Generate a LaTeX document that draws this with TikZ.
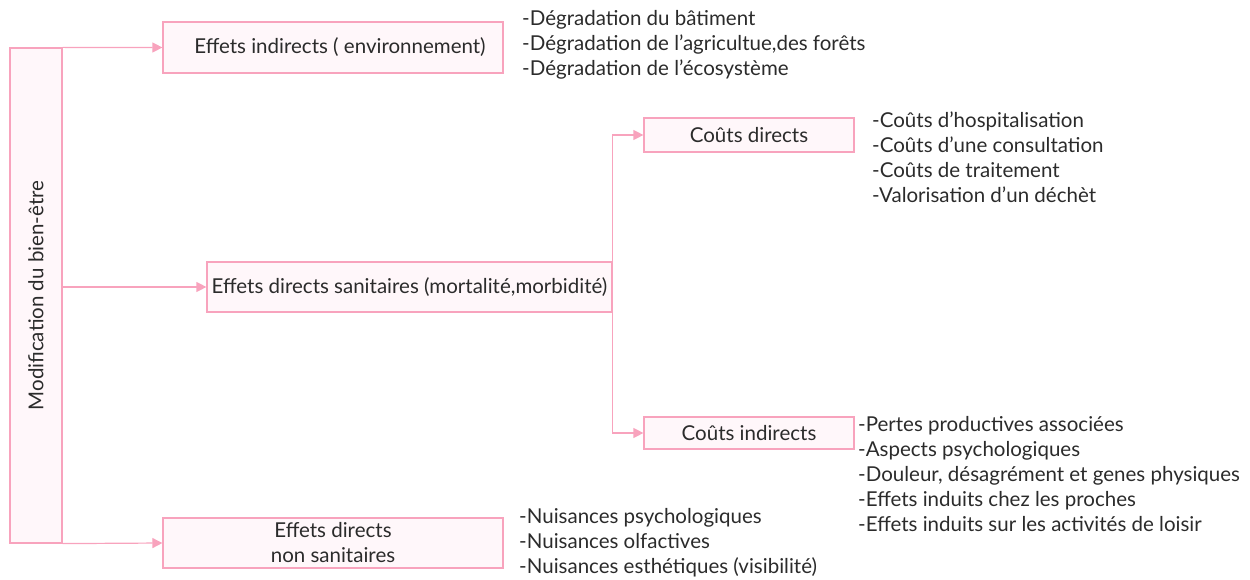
\documentclass[tikz,border=0pt]{standalone}
\usepackage{fontspec}
\setmainfont{Lato}
\usetikzlibrary{arrows.meta}
\definecolor{pinkline}{HTML}{F8A3BD}
\definecolor{pinkfill}{HTML}{FFF7FA}
\definecolor{txt}{HTML}{2B2B2B}
\begin{document}
\begin{tikzpicture}[x=1pt,y=-1pt,
  box/.style={draw=pinkline,fill=pinkfill,line width=1.2pt,inner sep=0pt,text=txt,font=\fontsize{20.5}{25}\selectfont},
  lst/.style={align=left,inner sep=0pt,text=txt,font=\fontsize{20.5}{25}\selectfont,anchor=west},
  conn/.style={draw=pinkline,line width=1.2pt,-{Triangle[length=10pt,width=10pt]}}]
\useasboundingbox (0,0) rectangle (1250,580);
\node[box,minimum width=52pt,minimum height=495pt] (mod) at (36,295.5) {\rotatebox{90}{Modification du bien-être}};
\node[box,minimum width=340pt,minimum height=51pt] (ind) at (333,47.5) {\hspace{14pt}Effets indirects ( environnement)};
\node[box,minimum width=405pt,minimum height=50pt] (san) at (409.5,287) {Effets directs sanitaires (mortalité,morbidité)};
\node[box,minimum width=340pt,minimum height=50pt,align=center] (nsan) at (333,543) {Effets directs\\non sanitaires};
\node[box,minimum width=210pt,minimum height=34pt] (cd) at (749,135) {Coûts directs};
\node[box,minimum width=210pt,minimum height=32pt] (ci) at (749,433) {Coûts indirects};
\node[lst] (l1) at (522,44.5) {-Dégradation du bâtiment\\-Dégradation de l’agricultue,des forêts\\-Dégradation de l’écosystème};
\node[lst] (l2) at (872,157) {-Coûts d’hospitalisation\\-Coûts d’une consultation\\-Coûts de traitement\\-Valorisation d’un déchèt};
\node[lst] (l3) at (858,474) {-Pertes productives associées\\-Aspects psychologiques\\-Douleur, désagrément et genes physiques\\-Effets induits chez les proches\\-Effets induits sur les activités de loisir};
\node[lst] (l4) at (519,543) {-Nuisances psychologiques\\-Nuisances olfactives\\-Nuisances esthétiques (visibilité)};
\draw[conn] (mod.north east) -- (ind.west);
\draw[conn] (mod.east |- san.west) -- (san.west);
\draw[conn] (mod.south east) -- (nsan.west);
\draw[conn] (san.east) |- (cd.west);
\draw[conn] (san.east) |- (ci.west);
\end{tikzpicture}
\end{document}
